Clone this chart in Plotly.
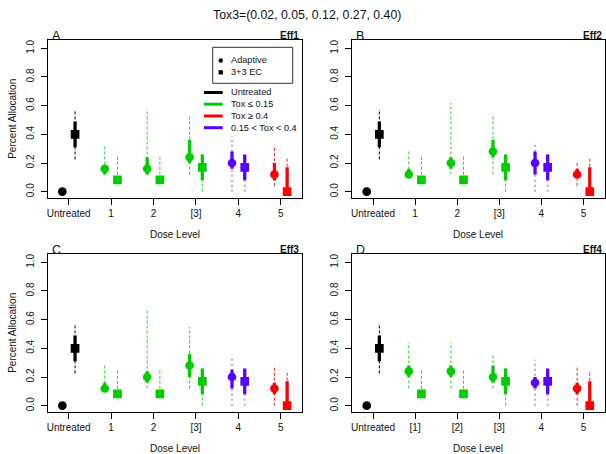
import plotly.graph_objects as go

# ---------------- data ----------------
cats_ABC = ["Untreated", "1", "2", "[3]", "4", "5"]
cats_D = ["Untreated", "[1]", "[2]", "[3]", "4", "5"]
title_text = "Tox3=(0.02, 0.05, 0.12, 0.27, 0.40)"
y_ticks = [0.0, 0.2, 0.4, 0.6, 0.8, 1.0]
y_ticktext = ["0.0", "0.2", "0.4", "0.6", "0.8", "1.0"]

# Adaptive design: estimate, inner (thick) interval, outer (dashed) interval
A_est = [0.00, 0.16, 0.16, 0.24, 0.20, 0.12]
A_q_lo = [None, 0.12, 0.12, 0.20, 0.16, 0.08]
A_q_hi = [None, 0.16, 0.24, 0.36, 0.28, 0.20]
A_ci_lo = [None, 0.12, 0.12, 0.12, 0.00, 0.04]
A_ci_hi = [None, 0.32, 0.58, 0.54, 0.39, 0.32]

B_est = [0.00, 0.12, 0.20, 0.28, 0.20, 0.12]
B_q_lo = [None, 0.10, 0.16, 0.24, 0.12, 0.10]
B_q_hi = [None, 0.16, 0.24, 0.36, 0.28, 0.16]
B_ci_lo = [None, 0.12, 0.12, 0.12, 0.00, 0.04]
B_ci_hi = [None, 0.28, 0.62, 0.54, 0.35, 0.20]

C_est = [0.00, 0.12, 0.20, 0.28, 0.20, 0.12]
C_q_lo = [None, 0.10, 0.16, 0.20, 0.12, 0.08]
C_q_hi = [None, 0.16, 0.24, 0.36, 0.25, 0.16]
C_ci_lo = [None, 0.12, 0.12, 0.12, 0.00, 0.00]
C_ci_hi = [None, 0.28, 0.68, 0.55, 0.35, 0.28]

D_est = [0.00, 0.24, 0.24, 0.20, 0.16, 0.12]
D_q_lo = [None, 0.20, 0.20, 0.16, 0.12, 0.08]
D_q_hi = [None, 0.28, 0.28, 0.28, 0.20, 0.16]
D_ci_lo = [None, 0.12, 0.12, 0.12, 0.00, 0.00]
D_ci_hi = [None, 0.44, 0.44, 0.36, 0.32, 0.28]

# 3+3 EC design (same in all panels)
ec_est = [0.40, 0.083, 0.083, 0.17, 0.17, 0.00]
ec_q_lo = [0.31, None, None, 0.08, 0.08, 0.00]
ec_q_hi = [0.49, None, None, 0.26, 0.26, 0.17]
ec_ci_lo = [0.225, 0.083, 0.083, 0.00, 0.00, 0.00]
ec_ci_hi = [0.575, 0.25, 0.25, 0.26, 0.26, 0.24]

# ---------------- styles ----------------
W, H = 606, 454
FONT = "Liberation Sans, Arial, sans-serif"
TXT = "#111111"
BLACK, GREEN, RED, PURPLE = "#000000", "#00CD00", "#FF0000", "#5A00FF"
dose_colors = [BLACK, GREEN, GREEN, GREEN, PURPLE, RED]


def dash_color(c):
    return {BLACK: "#000000", GREEN: "#2BD42B", RED: "#FF2020", PURPLE: "rgba(90,0,255,0.38)"}[c]


def px(x):
    return x / W


def py(y):
    return 1 - y / H


panels = [
    dict(lab="A", eff="Eff1", cats=cats_ABC, est=A_est, qlo=A_q_lo, qhi=A_q_hi, clo=A_ci_lo, chi=A_ci_hi,
         box=(47.5, 40, 302, 197.7), ytitle=True),
    dict(lab="B", eff="Eff2", cats=cats_ABC, est=B_est, qlo=B_q_lo, qhi=B_q_hi, clo=B_ci_lo, chi=B_ci_hi,
         box=(352, 40, 604.5, 197.7), ytitle=False),
    dict(lab="C", eff="Eff3", cats=cats_ABC, est=C_est, qlo=C_q_lo, qhi=C_q_hi, clo=C_ci_lo, chi=C_ci_hi,
         box=(47.5, 254, 302, 411.7), ytitle=True),
    dict(lab="D", eff="Eff4", cats=cats_D, est=D_est, qlo=D_q_lo, qhi=D_q_hi, clo=D_ci_lo, chi=D_ci_hi,
         box=(352, 254, 604.5, 411.7), ytitle=False),
]

OFF = 0.15
fig = go.Figure()
annotations = []
shapes = []

for k, p in enumerate(panels, start=1):
    xa = "x" if k == 1 else f"x{k}"
    ya = "y" if k == 1 else f"y{k}"
    positions = list(range(1, len(p["cats"]) + 1))
    series = [
        (-OFF, p["est"], p["qlo"], p["qhi"], p["clo"], p["chi"], "circle"),
        (+OFF, ec_est, ec_q_lo, ec_q_hi, ec_ci_lo, ec_ci_hi, "square"),
    ]
    # dashed outer intervals
    for off, est, qlo, qhi, clo, chi, sym in series:
        for i, pos in enumerate(positions):
            c = dose_colors[i]
            if clo[i] is not None and chi[i] is not None:
                wid = 2 if c == PURPLE else 1
                dsh = "2px,3px" if c == PURPLE else "3px,2px"
                fig.add_trace(go.Scatter(x=[pos + off, pos + off], y=[clo[i], chi[i]], mode="lines",
                                         line=dict(color=dash_color(c), width=wid, dash=dsh),
                                         xaxis=xa, yaxis=ya, showlegend=False, hoverinfo="skip"))
    # thick inner intervals
    for off, est, qlo, qhi, clo, chi, sym in series:
        for i, pos in enumerate(positions):
            c = dose_colors[i]
            if qlo[i] is not None and qhi[i] is not None:
                fig.add_trace(go.Scatter(x=[pos + off, pos + off], y=[qlo[i], qhi[i]], mode="lines",
                                         line=dict(color=c, width=3.3),
                                         xaxis=xa, yaxis=ya, showlegend=False, hoverinfo="skip"))
    # point estimates
    for off, est, qlo, qhi, clo, chi, sym in series:
        fig.add_trace(go.Scatter(x=[pos + off for pos in positions], y=est, mode="markers",
                                 marker=dict(symbol=sym, size=8.7, color=dose_colors, line=dict(width=0)),
                                 xaxis=xa, yaxis=ya, showlegend=False, hoverinfo="skip"))

    x0, y0, x1, y1 = p["box"]
    axname = "xaxis" if k == 1 else f"xaxis{k}"
    ayname = "yaxis" if k == 1 else f"yaxis{k}"
    fig.layout[axname] = dict(domain=[px(x0), px(x1)], range=[0.5, 6.5], anchor=ya,
                              tickmode="array", tickvals=positions, ticktext=p["cats"],
                              showline=True, mirror=True, linecolor="black", linewidth=1,
                              ticks="outside", ticklen=6, tickcolor="black", tickwidth=1,
                              showgrid=False, zeroline=False,
                              tickfont=dict(family=FONT, size=10, color=TXT))
    fig.layout[ayname] = dict(domain=[py(y1), py(y0)], range=[-0.042, 1.058], anchor=xa,
                              tickmode="array", tickvals=y_ticks, ticktext=y_ticktext, tickangle=-90,
                              showline=True, mirror=True, linecolor="black", linewidth=1,
                              ticks="outside", ticklen=6, tickcolor="black", tickwidth=1,
                              ticklabelstandoff=3,
                              showgrid=False, zeroline=False,
                              tickfont=dict(family=FONT, size=10, color=TXT))
    # panel letter and efficacy label
    annotations.append(dict(text=p["lab"], x=px(x0 + 2), y=py(y0 - 4), xref="paper", yref="paper",
                            xanchor="left", yanchor="middle", showarrow=False,
                            font=dict(family=FONT, size=12.5, color=TXT)))
    annotations.append(dict(text="<b>" + p["eff"] + "</b>", x=px(x1 - 1), y=py(y0 - 5), xref="paper",
                            yref="paper", xanchor="right", yanchor="middle", showarrow=False,
                            font=dict(family=FONT, size=10, color=TXT)))
    annotations.append(dict(text="Dose Level", x=px((x0 + x1) / 2), y=py(y1 + 37), xref="paper",
                            yref="paper", xanchor="center", yanchor="middle", showarrow=False,
                            font=dict(family=FONT, size=10, color=TXT)))
    if p["ytitle"]:
        annotations.append(dict(text="Percent Allocation", x=px(13), y=py((y0 + y1) / 2), xref="paper",
                                yref="paper", xanchor="center", yanchor="middle", showarrow=False,
                                textangle=-90, font=dict(family=FONT, size=10, color=TXT)))

# title
annotations.append(dict(text=title_text, x=px(307), y=py(15), xref="paper", yref="paper",
                        xanchor="center", yanchor="middle", showarrow=False,
                        font=dict(family=FONT, size=12.3, color=TXT)))

# legend (panel A)
shapes.append(dict(type="rect", xref="paper", yref="paper", x0=px(212.7), x1=px(292.7),
                   y0=py(83.3), y1=py(47.3), line=dict(color="#333333", width=1)))
shapes.append(dict(type="circle", xref="paper", yref="paper", x0=px(218.5), x1=px(223),
                   y0=py(62.8), y1=py(58.3), fillcolor="black", line=dict(width=0)))
shapes.append(dict(type="rect", xref="paper", yref="paper", x0=px(218.6), x1=px(222.9),
                   y0=py(74.5), y1=py(70.2), fillcolor="black", line=dict(width=0)))
for txt, yy in [("Adaptive", 60.5), ("3+3 EC", 72.3)]:
    annotations.append(dict(text=txt, x=px(229), y=py(yy), xref="paper", yref="paper",
                            xanchor="left", yanchor="middle", showarrow=False,
                            font=dict(family=FONT, size=9.2, color=TXT)))
legend_lines = [("Untreated", BLACK, 92.5), ("Tox ≤ 0.15", GREEN, 104.2),
                ("Tox ≥ 0.4", RED, 116.0), ("0.15 < Tox < 0.4", PURPLE, 127.7)]
for txt, col, yy in legend_lines:
    shapes.append(dict(type="line", xref="paper", yref="paper", x0=px(204), x1=px(222.7),
                       y0=py(yy), y1=py(yy), line=dict(color=col, width=3)))
    annotations.append(dict(text=txt, x=px(229), y=py(yy), xref="paper", yref="paper",
                            xanchor="left", yanchor="middle", showarrow=False,
                            font=dict(family=FONT, size=9.2, color=TXT)))

fig.update_layout(width=W, height=H, margin=dict(l=0, r=0, t=0, b=0),
                  paper_bgcolor="white", plot_bgcolor="white",
                  annotations=annotations, shapes=shapes, showlegend=False,
                  font=dict(family=FONT))
fig.write_html("out.html", config={"displayModeBar": False},
               post_script="document.body.style.margin='0';document.body.style.overflow='hidden';")
